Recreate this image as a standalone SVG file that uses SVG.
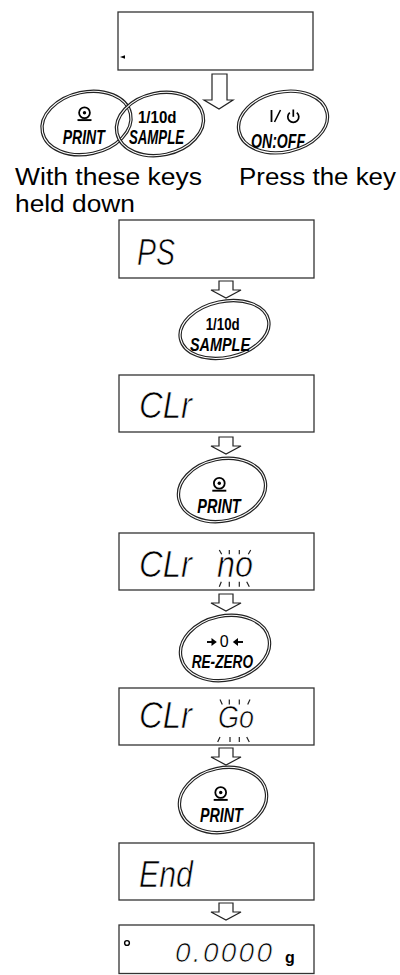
<svg xmlns="http://www.w3.org/2000/svg" width="400" height="975" viewBox="0 0 400 975">
<style>
.disp{fill:#fff;stroke:#333;stroke-width:1.3}
.ko{fill:none;stroke:#222;stroke-width:3.4}
.ki{fill:none;stroke:#fff;stroke-width:1.1}
.kb{font-family:"Liberation Sans",Arial,sans-serif;font-weight:bold;fill:#000}
.ki2{font-style:italic}
.lbl{font-family:"Liberation Sans",Arial,sans-serif;font-size:23px;fill:#000}
.seg{font-family:"Liberation Sans",Arial,sans-serif;font-style:italic;font-size:37px;fill:#000;stroke:#fff;stroke-width:0.7px}
.arr{fill:#fff;stroke:#222;stroke-width:1.2;stroke-linejoin:miter}
.ico{fill:none;stroke:#000;stroke-width:1.7}
.blk{stroke:#222;stroke-width:1.2;fill:none}
</style>
<defs>
<path id="sarr" d="M-7,0 H7 V9 H15 L0,17 L-15,9 H-7 Z"/>
<g id="printIcon">
<circle cx="0" cy="0" r="5.4" fill="none" stroke="#000" stroke-width="1.8"/>
<circle cx="0" cy="0" r="1.7" fill="#000"/>
<line x1="-7" y1="7.4" x2="7" y2="7.4" stroke="#000" stroke-width="1.9"/>
</g>
</defs>

<g id="connectors">
<path class="arr" d="M212,74 H227 V100 H233 L219,109 L204,100 H212 Z"/>
<use href="#sarr" class="arr" x="226" y="281"/>
<use href="#sarr" class="arr" x="226" y="437"/>
<use href="#sarr" class="arr" x="226" y="594"/>
<use href="#sarr" class="arr" x="226" y="748"/>
<use href="#sarr" class="arr" x="226" y="903"/>
</g>

<g id="display-initial">
<rect class="disp" x="118" y="12" width="195" height="58"/>
<polygon points="120,57 125,55.2 125,58.8" fill="#000"/>
</g>

<g id="key-print-1">
<ellipse class="ko" cx="86.5" cy="123" rx="45" ry="31" transform="rotate(-12 86.5 123)"/>
<ellipse class="ki" cx="86.5" cy="123" rx="45" ry="31" transform="rotate(-12 86.5 123)"/>
<use href="#printIcon" x="84.5" y="112.7"/>
<text class="kb ki2" x="62.7" y="143.5" font-size="20" textLength="42" lengthAdjust="spacingAndGlyphs">PRINT</text>
</g>

<g id="key-sample-1">
<ellipse class="ko" cx="160" cy="124" rx="44" ry="31" transform="rotate(-12 160 124)"/>
<ellipse class="ki" cx="160" cy="124" rx="44" ry="31" transform="rotate(-12 160 124)"/>
<text class="kb" x="138" y="122.5" font-size="17" textLength="38.5" lengthAdjust="spacingAndGlyphs">1/10d</text>
<text class="kb ki2" x="129" y="144" font-size="19.5" textLength="55" lengthAdjust="spacingAndGlyphs">SAMPLE</text>
</g>

<g id="key-onoff">
<ellipse class="ko" cx="283" cy="122" rx="45" ry="30" transform="rotate(-12 283 122)"/>
<ellipse class="ki" cx="283" cy="122" rx="45" ry="30" transform="rotate(-12 283 122)"/>
<line x1="271.5" y1="110" x2="271.5" y2="122" stroke="#000" stroke-width="1.8"/>
<line x1="280.5" y1="110" x2="274.5" y2="122" stroke="#000" stroke-width="1.6"/>
<path class="ico" d="M289.8,112.6 A5.5,5.5 0 1,0 296.8,112.6"/>
<line x1="293.3" y1="109.5" x2="293.3" y2="116.8" stroke="#000" stroke-width="1.7"/>
<text class="kb ki2" x="251" y="148" font-size="20" textLength="54" lengthAdjust="spacingAndGlyphs">ON:OFF</text>
</g>

<g id="labels">
<text class="lbl" x="15" y="185" textLength="187" lengthAdjust="spacingAndGlyphs">With these keys</text>
<text class="lbl" x="15" y="211.5" textLength="120" lengthAdjust="spacingAndGlyphs">held down</text>
<text class="lbl" x="239" y="185" textLength="157" lengthAdjust="spacingAndGlyphs">Press the key</text>
</g>

<g id="display-ps">
<rect class="disp" x="119" y="220" width="195" height="58"/>
<text class="seg" x="137" y="265" textLength="38" lengthAdjust="spacingAndGlyphs">PS</text>
</g>

<g id="key-sample-2">
<ellipse class="ko" cx="224.5" cy="329.5" rx="45" ry="28" transform="rotate(-12 224.5 329.5)"/>
<ellipse class="ki" cx="224.5" cy="329.5" rx="45" ry="28" transform="rotate(-12 224.5 329.5)"/>
<text class="kb" x="205.7" y="330" font-size="17" textLength="34" lengthAdjust="spacingAndGlyphs">1/10d</text>
<text class="kb ki2" x="190" y="351" font-size="18.5" textLength="60" lengthAdjust="spacingAndGlyphs">SAMPLE</text>
</g>

<g id="display-clr">
<rect class="disp" x="119" y="375" width="195" height="57"/>
<text class="seg" x="139" y="418" textLength="53" lengthAdjust="spacingAndGlyphs">CLr</text>
</g>

<g id="key-print-2">
<ellipse class="ko" cx="222" cy="490" rx="44" ry="31" transform="rotate(-12 222 490)"/>
<ellipse class="ki" cx="222" cy="490" rx="44" ry="31" transform="rotate(-12 222 490)"/>
<use href="#printIcon" x="219.3" y="483.3"/>
<text class="kb ki2" x="197.3" y="512.7" font-size="20" textLength="43.4" lengthAdjust="spacingAndGlyphs">PRINT</text>
</g>

<g id="display-clr-no">
<rect class="disp" x="119" y="533" width="195" height="57"/>
<text class="seg" x="139" y="577" textLength="53" lengthAdjust="spacingAndGlyphs">CLr</text>
<text class="seg" x="217" y="577" textLength="36" lengthAdjust="spacingAndGlyphs">no</text>
<path class="blk" d="M219.3,550 L221.7,554.3 M229.3,550 V554.3 M239.3,550 V554.3 M250.7,550 L248.3,554.3 M219.3,586.7 L221.3,581.7 M229.3,581.7 V586.7 M239.3,581.7 V586.7 M246.7,581.7 L249.3,586.7"/>
</g>

<g id="key-rezero">
<ellipse class="ko" cx="225" cy="648" rx="45" ry="32" transform="rotate(-12 225 648)"/>
<ellipse class="ki" cx="225" cy="648" rx="45" ry="32" transform="rotate(-12 225 648)"/>
<line x1="207" y1="642" x2="213" y2="642" stroke="#000" stroke-width="1.9"/>
<polygon points="211.5,638 216.8,642 211.5,646" fill="#000"/>
<text x="224.3" y="647" font-family="Liberation Sans, Arial, sans-serif" font-size="16" text-anchor="middle">0</text>
<line x1="237" y1="642" x2="243" y2="642" stroke="#000" stroke-width="1.9"/>
<polygon points="238,638 232.8,642 238,646" fill="#000"/>
<text class="kb ki2" x="191.7" y="668" font-size="19" textLength="61.3" lengthAdjust="spacingAndGlyphs">RE-ZERO</text>
</g>

<g id="display-clr-go">
<rect class="disp" x="119" y="688" width="195" height="57"/>
<text class="seg" x="139" y="728" textLength="53" lengthAdjust="spacingAndGlyphs">CLr</text>
<text class="seg" x="218" y="728" textLength="36" lengthAdjust="spacingAndGlyphs" style="font-size:31px">Go</text>
<path class="blk" d="M220,699.5 L222.3,704.5 M229.3,699.5 V704.5 M239.3,699.5 V704.5 M250,699.5 L247.7,704.5 M217.7,742 L220,737 M230,737 V742 M239.3,737 V742 M246.7,737 L249.3,742"/>
</g>

<g id="key-print-3">
<ellipse class="ko" cx="223" cy="800" rx="44" ry="32" transform="rotate(-12 223 800)"/>
<ellipse class="ki" cx="223" cy="800" rx="44" ry="32" transform="rotate(-12 223 800)"/>
<use href="#printIcon" x="220.7" y="792.5"/>
<text class="kb ki2" x="200" y="821.7" font-size="20" textLength="42.7" lengthAdjust="spacingAndGlyphs">PRINT</text>
</g>

<g id="display-end">
<rect class="disp" x="119" y="843" width="195" height="57"/>
<text class="seg" x="139" y="887" textLength="54" lengthAdjust="spacingAndGlyphs">End</text>
</g>

<g id="display-zero">
<rect class="disp" x="119" y="925" width="195" height="48.5"/>
<circle cx="127" cy="943" r="2.4" fill="none" stroke="#000" stroke-width="1.4"/>
<text class="seg" x="175" y="962" textLength="97" lengthAdjust="spacing" style="font-size:28px">0.0000</text>
<text class="kb" x="285" y="963" font-size="16">g</text>
</g>
</svg>
